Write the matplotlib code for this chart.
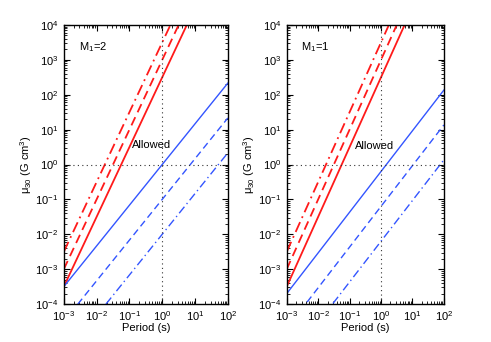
import numpy as np
import matplotlib
matplotlib.use("Agg")
import matplotlib.pyplot as plt
from matplotlib.ticker import LogLocator, NullFormatter

plt.rcParams['font.family'] = ['Liberation Sans', 'DejaVu Sans']
plt.rcParams['mathtext.fontset'] = 'custom'
plt.rcParams['mathtext.rm'] = 'Liberation Sans'
plt.rcParams['mathtext.it'] = 'Liberation Sans'

# period grid (s)
period = np.logspace(-3, 2, 200)

# log10(mu30) at P = 1 s for each curve; red ~ P^2, blue ~ P^(7/6)
panel_labels = ['M$_1$=2', 'M$_1$=1']
red_norm = [[2.5, 3.0, 3.5], [2.5, 3.0, 3.5]]
blue_norm = [[0.0, -1.0, -2.0], [-0.2, -1.2, -2.2]]
red_slope = 2.0
blue_slope = 7.0 / 6.0
styles = ['-', (0, (5, 3)), (0, (6, 2.5, 1, 2.5))]
allowed_pos = [(0.48, 3.6), (0.62, 3.4)]

fs = 8
fig = plt.figure(figsize=(4.91, 3.42), dpi=100)
rects = [[0.130, 0.111, 0.334, 0.816], [0.584, 0.111, 0.320, 0.816]]

for k in range(2):
    ax = fig.add_axes(rects[k])
    for c, ls in zip(red_norm[k], styles):
        ax.plot(period, 10**c * period**red_slope, color='#ff1a1a', lw=1.3, ls=ls)
    for c, ls in zip(blue_norm[k], styles):
        ax.plot(period, 10**c * period**blue_slope, color='#3355ff', lw=1.0, ls=ls)
    ax.axhline(1, color='#333333', lw=0.8, ls=(0, (1, 3)))
    ax.axvline(1, color='#333333', lw=0.8, ls=(0, (1, 3)))
    ax.set_xscale('log')
    ax.set_yscale('log')
    ax.set_xlim(1e-3, 1e2)
    ax.set_ylim(1e-4, 1e4)
    ax.xaxis.set_major_locator(LogLocator(base=10, numticks=20))
    ax.yaxis.set_major_locator(LogLocator(base=10, numticks=20))
    ax.xaxis.set_minor_locator(LogLocator(base=10, subs=np.arange(2, 10), numticks=20))
    ax.yaxis.set_minor_locator(LogLocator(base=10, subs=np.arange(2, 10), numticks=20))
    ax.xaxis.set_minor_formatter(NullFormatter())
    ax.yaxis.set_minor_formatter(NullFormatter())
    ax.tick_params(which='both', direction='in', top=True, right=True, labelsize=fs)
    ax.tick_params(which='major', length=4)
    ax.tick_params(which='minor', length=2)
    ax.tick_params(axis='x', which='major', pad=4)
    ax.tick_params(axis='y', which='major', pad=4)
    for s in ax.spines.values():
        s.set_linewidth(1.0)
    ax.text(0.09, 0.92, panel_labels[k], transform=ax.transAxes, fontsize=fs,
            va='center')
    ax.text(allowed_pos[k][0], allowed_pos[k][1], 'Allowed', fontsize=fs,
            ha='center', va='center')
    ax.set_xlabel('Period (s)', fontsize=fs, labelpad=0)
    ax.set_ylabel(r'$\mathregular{\mu_{30}}$ (G cm$\mathregular{^3}$)', fontsize=fs,
                  labelpad=1)

fig.savefig('out.png', dpi=100)
